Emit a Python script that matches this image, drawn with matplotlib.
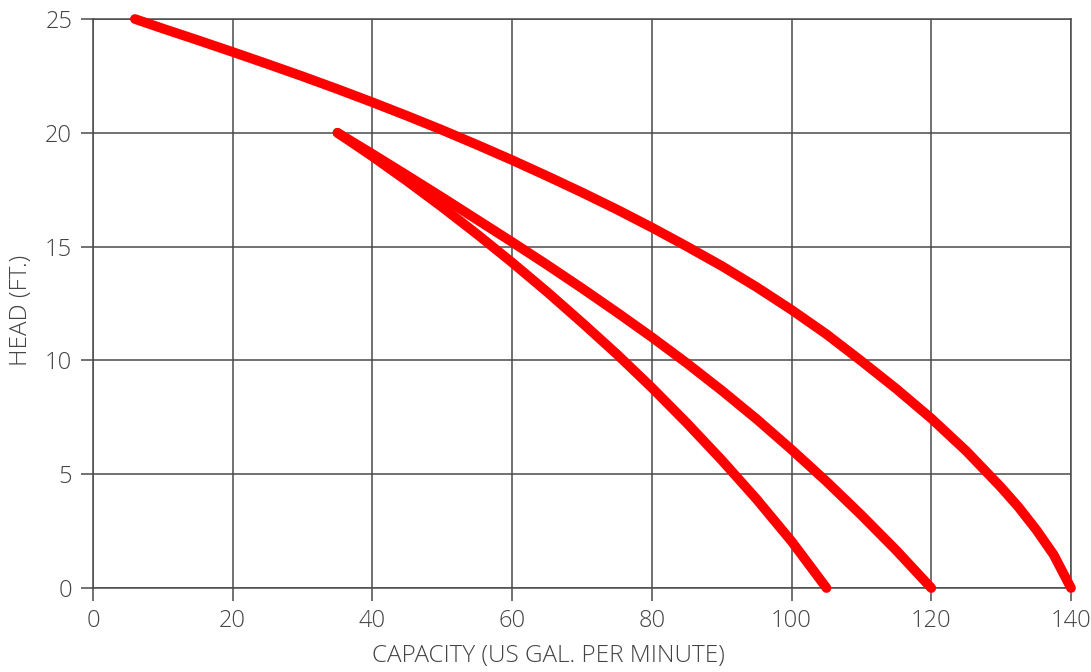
import matplotlib
matplotlib.use("Agg")
import matplotlib.pyplot as plt

# Data
top_x = [6, 10, 15, 20, 25, 30, 35, 40, 45, 50, 55, 60, 65, 70, 75, 80, 85, 90, 95, 100,
         105, 110, 115, 120, 125, 130, 132.5, 135, 137.5, 140]
top_y = [25, 24.58, 24.07, 23.55, 23.02, 22.48, 21.92, 21.34, 20.74, 20.12, 19.47, 18.8,
         18.1, 17.38, 16.63, 15.84, 15.01, 14.15, 13.22, 12.22, 11.15, 9.97, 8.75, 7.45,
         6.02, 4.42, 3.55, 2.57, 1.47, 0]

mid_x = [35, 40, 45, 50, 55, 60, 65, 70, 75, 80, 85, 90, 95, 100, 105, 110, 115, 120]
mid_y = [20, 19.07, 18.12, 17.16, 16.18, 15.2, 14.2, 13.17, 12.11, 11.02, 9.88, 8.68, 7.42,
         6.08, 4.68, 3.2, 1.65, 0]

low_x = [35, 40, 45, 50, 55, 60, 65, 70, 75, 80, 85, 90, 95, 100, 105]
low_y = [20, 18.96, 17.87, 16.73, 15.54, 14.3, 13.01, 11.66, 10.27, 8.8, 7.25, 5.62, 3.9, 2.05, 0]

x_ticks = [0, 20, 40, 60, 80, 100, 120, 140]
y_ticks = [0, 5, 10, 15, 20, 25]
x_label = "CAPACITY (US GAL. PER MINUTE)"
y_label = "HEAD (FT.)"

GRID = "#4a4a4a"
TEXT = "#444444"
FONT = ["Open Sans", "DejaVu Sans"]

fig = plt.figure(figsize=(10.91, 6.72), dpi=100)
ax = fig.add_axes([93/1091, 1-588/672, (1071-93)/1091, (588-19)/672])

for xs, ys in [(top_x, top_y), (mid_x, mid_y), (low_x, low_y)]:
    ax.plot(xs, ys, color="#ff0000", lw=7, solid_capstyle="round",
            solid_joinstyle="round", zorder=3, clip_on=False)

ax.set_xlim(0, 140)
ax.set_ylim(0, 25)
ax.set_xticks(x_ticks)
ax.set_yticks(y_ticks)
ax.grid(True, color=GRID, lw=1.1, zorder=1)
for s in ax.spines.values():
    s.set_color(GRID)
    s.set_linewidth(1.1)
ax.tick_params(axis="both", length=9, width=1.1, color=GRID, labelcolor=TEXT,
               labelsize=17, pad=6)
for lab in ax.get_xticklabels() + ax.get_yticklabels():
    lab.set_family(FONT)
    lab.set_fontweight("light")

ax.set_xlabel(x_label, fontsize=17.5, color=TEXT, family=FONT, fontweight="light")
ax.xaxis.set_label_coords((548 - 93) / 978, -0.098)
ax.set_ylabel(y_label, fontsize=17.5, color=TEXT, family=FONT, fontweight="light")
ax.yaxis.set_label_coords(-(93 - 33) / 978, (588 - 310) / 569)

fig.savefig("out.png", dpi=100)
